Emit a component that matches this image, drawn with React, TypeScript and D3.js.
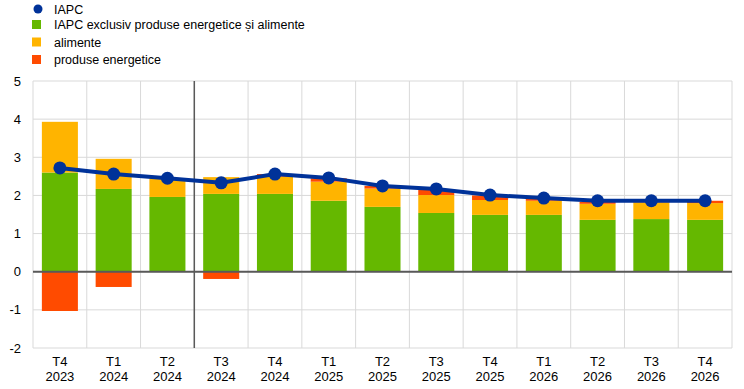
import * as d3 from 'd3';

const quarters = ['T4', 'T1', 'T2', 'T3', 'T4', 'T1', 'T2', 'T3', 'T4', 'T1', 'T2', 'T3', 'T4'];
const years = ['2023', '2024', '2024', '2024', '2024', '2025', '2025', '2025', '2025', '2026', '2026', '2026', '2026'];
const core = [2.6, 2.17, 1.96, 2.04, 2.04, 1.86, 1.7, 1.54, 1.49, 1.49, 1.36, 1.38, 1.36];
const food = [1.33, 0.79, 0.49, 0.44, 0.45, 0.5, 0.48, 0.47, 0.39, 0.37, 0.42, 0.44, 0.44];
const energy = [-1.03, -0.4, 0, -0.19, 0.07, 0.09, 0.07, 0.15, 0.12, 0.06, 0.05, 0.03, 0.06];
const hicp = [2.72, 2.56, 2.45, 2.33, 2.56, 2.46, 2.25, 2.17, 2.01, 1.93, 1.86, 1.86, 1.86];
const yTicks = [-2, -1, 0, 1, 2, 3, 4, 5];
const projectionStart = 3; // first projected quarter (T3 2024)

const seriesKeys = ['core', 'food', 'energy'];
const seriesNames = ['IAPC exclusiv produse energetice și alimente', 'alimente', 'produse energetice'];
const colors: Record<string, string> = { core: '#65b800', food: '#ffb400', energy: '#ff4b00' };
const blue = '#003299';

export default function App() {
  const W = 744, H = 389;
  const margin = { top: 81, right: 12, bottom: 41, left: 33 };

  const rows = quarters.map((q, i) => ({ id: i, core: core[i], food: food[i], energy: energy[i] }));
  const x = d3.scaleBand<number>()
    .domain(rows.map(r => r.id))
    .range([margin.left, W - margin.right])
    .paddingInner(0.33)
    .paddingOuter(0.165);
  const step = x.step();
  const x0 = margin.left;
  const y = d3.scaleLinear().domain([-2, 5]).range([H - margin.bottom, margin.top]);

  const stacked = d3.stack<any>().keys(seriesKeys).offset(d3.stackOffsetDiverging)(rows);
  const line = d3.line<number>()
    .x((_, i) => x(i)! + x.bandwidth() / 2)
    .y(v => y(v));

  const font = 'Arial, "Liberation Sans", sans-serif';

  return (
    <svg width={W} height={H} style={{ position: 'absolute', left: 0, top: 0 }} fontFamily={font}>
      {/* legend */}
      <g fontSize={12.5} fill="#000">
        <circle cx={38} cy={9} r={4.5} fill={blue} />
        <text x={54} y={13.5}>IAPC</text>
        {seriesKeys.map((k, i) => (
          <g key={k}>
            <rect x={32} y={20 + i * 17.5} width={9} height={9} fill={colors[k]} />
            <text x={54} y={29 + i * 17.5}>{seriesNames[i]}</text>
          </g>
        ))}
      </g>

      {/* grid */}
      {yTicks.map(t => (
        <line key={t} x1={x0} x2={W - margin.right} y1={y(t)} y2={y(t)} stroke="#d9d9d9" strokeWidth={1} />
      ))}
      {d3.range(quarters.length + 1).map(i => (
        <line key={i} x1={x0 + i * step} x2={x0 + i * step} y1={y(5)} y2={y(-2)} stroke="#d9d9d9" strokeWidth={1} />
      ))}

      {/* bars */}
      {stacked.map(s => (
        <g key={s.key} fill={colors[s.key]}>
          {s.map((d, i) => {
            const top = Math.max(d[0], d[1]);
            const bot = Math.min(d[0], d[1]);
            if (top - bot <= 0) return null;
            return (
              <rect key={i} x={x(i)} width={x.bandwidth()} y={y(top)} height={y(bot) - y(top)} />
            );
          })}
        </g>
      ))}

      {/* zero line and projection divider */}
      <line x1={x0} x2={W - margin.right} y1={y(0)} y2={y(0)} stroke="#595959" strokeWidth={2} />
      <line x1={x0 + projectionStart * step} x2={x0 + projectionStart * step} y1={y(5)} y2={y(-2)} stroke="#595959" strokeWidth={1.5} />

      {/* HICP line */}
      <path d={line(hicp) ?? ''} fill="none" stroke={blue} strokeWidth={4} />
      {hicp.map((v, i) => (
        <circle key={i} cx={x(i)! + x.bandwidth() / 2} cy={y(v)} r={6.5} fill={blue} />
      ))}

      {/* y axis labels */}
      <g fontSize={13} fill="#000" textAnchor="end">
        {yTicks.map(t => (
          <text key={t} x={21} y={y(t) + 4.5}>{t}</text>
        ))}
      </g>

      {/* x axis labels */}
      <g fontSize={13} fill="#000" textAnchor="middle">
        {quarters.map((q, i) => (
          <g key={i}>
            <text x={x(i)! + x.bandwidth() / 2} y={366}>{q}</text>
            <text x={x(i)! + x.bandwidth() / 2} y={381}>{years[i]}</text>
          </g>
        ))}
      </g>
    </svg>
  );
}
